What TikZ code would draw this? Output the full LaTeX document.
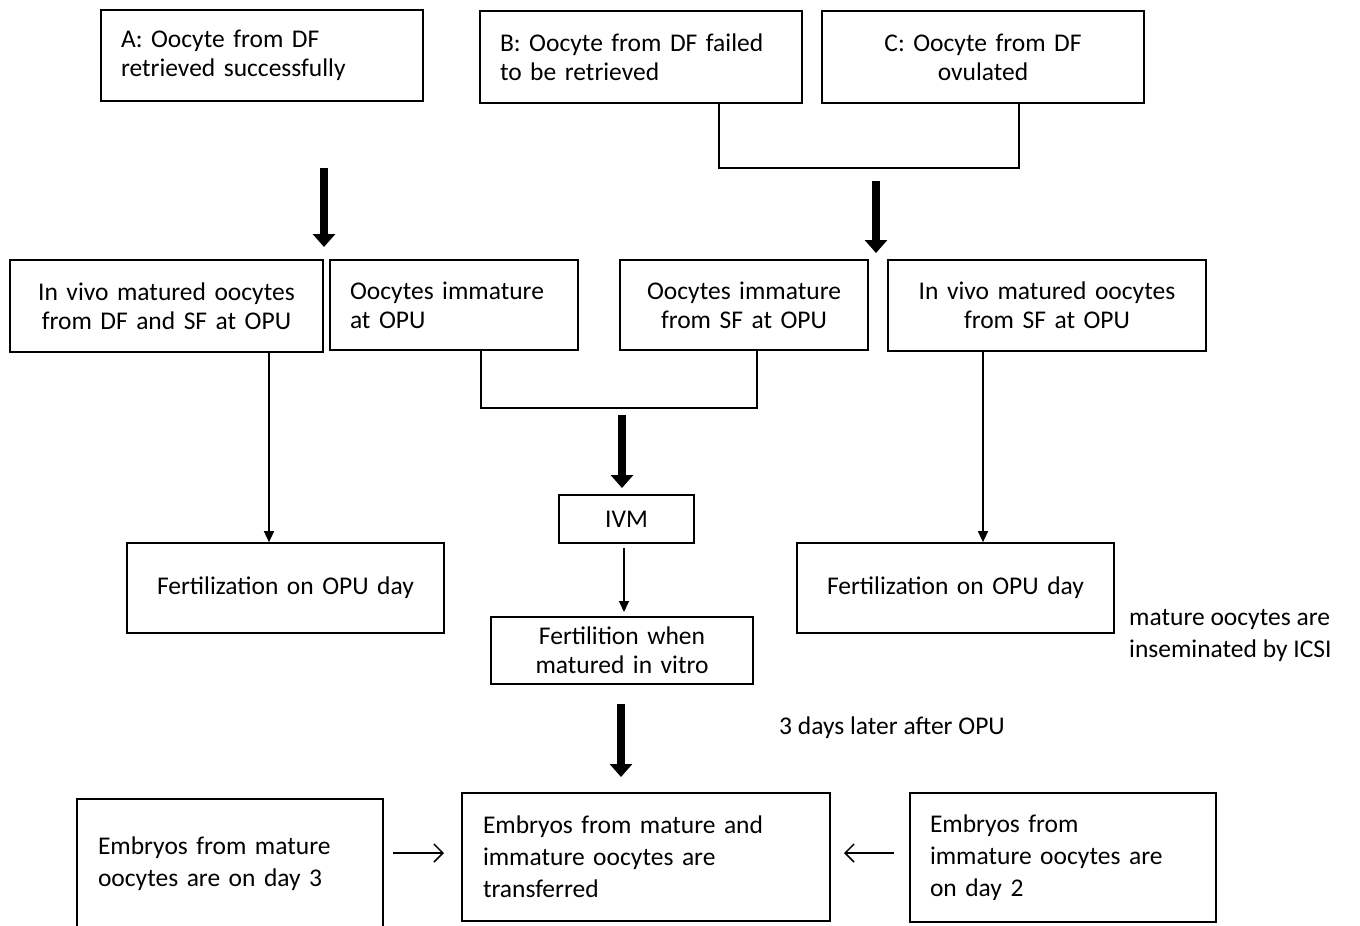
\documentclass[tikz,border=0pt]{standalone}
\usepackage{fontspec}
\setmainfont{Carlito}
\usetikzlibrary{arrows.meta}
\tikzset{
  box/.style={draw, line width=1.7pt, inner sep=0pt, font=\fontsize{25.5}{29}\selectfont},
  tharrow/.style={line width=8pt, -{Triangle[width=22pt,length=13pt]}},
  tnarrow/.style={line width=1.5pt, -{Triangle[width=10pt,length=11pt]}},
  oarrow/.style={line width=1.5pt, -{Straight Barb[length=9pt,width=18pt,line width=1.5pt]}},
  conn/.style={line width=1.7pt},
  lbl/.style={inner sep=0pt, font=\fontsize{25.5}{32}\selectfont, align=left, anchor=west}
}
\begin{document}
\begin{tikzpicture}[x=1pt,y=-1pt]
\useasboundingbox (0,0) rectangle (1360,926);
% top row
\node[box, minimum width=322pt, minimum height=91pt, text width=282pt, align=left] (A) at (262,55.5) {A: Oocyte from DF\\retrieved successfully};
\node[box, minimum width=322pt, minimum height=92pt, text width=282pt, align=left] (B) at (641,57) {B: Oocyte from DF failed\\to be retrieved};
\node[box, minimum width=322pt, minimum height=92pt, text width=282pt, align=center] (C) at (983,57) {C: Oocyte from DF\\ovulated};
% second row
\node[box, minimum width=313pt, minimum height=92pt, text width=290pt, align=center] (D) at (166.5,306) {In vivo matured oocytes\\from DF and SF at OPU};
\node[box, minimum width=248pt, minimum height=90pt, text width=208pt, align=left] (E) at (454,305) {Oocytes immature\\at OPU};
\node[box, minimum width=248pt, minimum height=90pt, text width=230pt, align=center] (F) at (744,305) {Oocytes immature\\from SF at OPU};
\node[box, minimum width=318pt, minimum height=91pt, text width=296pt, align=center] (G) at (1047,305.5) {In vivo matured oocytes\\from SF at OPU};
% third row
\node[box, minimum width=317pt, minimum height=90pt, text width=297pt, align=center] (FL) at (285.5,588) {Fertilization on OPU day};
\node[box, minimum width=317pt, minimum height=90pt, text width=297pt, align=center] (FR) at (955.5,588) {Fertilization on OPU day};
\node[box, minimum width=135pt, minimum height=48pt, text width=120pt, align=center] (IVM) at (626.5,519) {IVM};
\node[box, minimum width=262pt, minimum height=67pt, text width=250pt, align=center] (FW) at (622,650.5) {Fertilition when\\matured in vitro};
% labels
\node[lbl] (icsi) at (1129,635) {mature oocytes are\\inseminated by ICSI};
\node[lbl] (days) at (779,728) {3 days later after OPU};
% bottom row
\node[box, font=\fontsize{25.5}{32}\selectfont, minimum width=306pt, minimum height=130pt, text width=264pt, align=left] (BL) at (230,864) {Embryos from mature\\oocytes are on day 3};
\node[box, font=\fontsize{25.5}{32}\selectfont, minimum width=368pt, minimum height=128pt, text width=326pt, align=left] (BM) at (646,857) {Embryos from mature and\\immature oocytes are\\transferred};
\node[box, font=\fontsize{25.5}{32}\selectfont, minimum width=306pt, minimum height=129pt, text width=266pt, align=left] (BR) at (1063,857.5) {Embryos from\\immature oocytes are\\on day 2};
% connectors
\draw[conn] ([xshift=78pt]B.south) -- ++(0,64) -| ([xshift=36pt]C.south);
\draw[conn] ([xshift=27pt]E.south) -- ++(0,57) -| ([xshift=13pt]F.south);
\coordinate (t1s) at (324,168); \coordinate (t1e) at (324,247);
\coordinate (t2s) at (876,181); \coordinate (t2e) at (876,253);
\coordinate (t3s) at (622,415); \coordinate (t3e) at (622,488);
\coordinate (t4s) at (621,704); \coordinate (t4e) at (621,777);
\draw[tharrow] (t1s) -- (t1e);
\draw[tharrow] (t2s) -- (t2e);
\draw[tharrow] (t3s) -- (t3e);
\draw[tharrow] (t4s) -- (t4e);
\draw[tnarrow] ([xshift=102.5pt]D.south) -- ([xshift=102.5pt]D.south |- FL.north);
\draw[tnarrow] ([xshift=-64pt]G.south) -- ([xshift=-64pt]G.south |- FR.north);
\coordinate (i1) at (624,548); \coordinate (i2) at (624,612);
\draw[tnarrow] (i1) -- (i2);
\coordinate (l1) at (393,853); \coordinate (l2) at (444,853);
\coordinate (r1) at (894,853); \coordinate (r2) at (844,853);
\draw[oarrow] (l1) -- (l2);
\draw[oarrow] (r1) -- (r2);
\end{tikzpicture}
\end{document}
